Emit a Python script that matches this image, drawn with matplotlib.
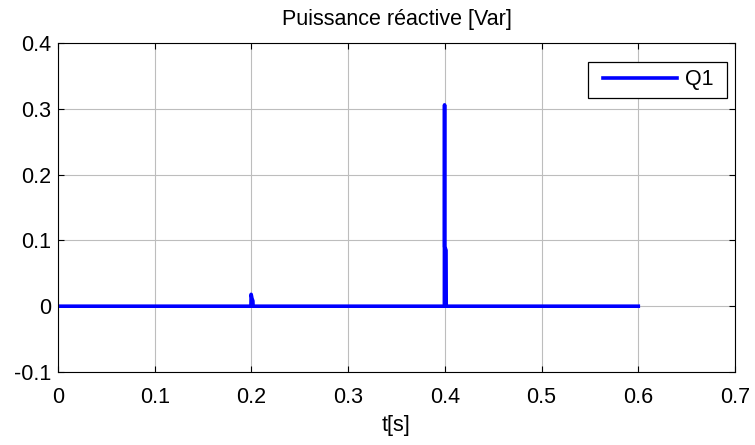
import matplotlib
matplotlib.use("Agg")
import matplotlib.pyplot as plt
from matplotlib.patches import Rectangle

plt.rcParams['font.family'] = ['Liberation Sans', 'DejaVu Sans']

t = [0.0, 0.1995, 0.1997, 0.2, 0.2005, 0.201, 0.2015, 0.2017,
     0.3995, 0.3997, 0.3998, 0.4001, 0.4005, 0.4012, 0.4014, 0.6]
q1 = [0.0, 0.0, 0.018, 0.016, 0.012, 0.010, 0.008, 0.0,
      0.0, 0.306, 0.09, 0.089, 0.088, 0.085, 0.0, 0.0]

xticks = [0, 0.1, 0.2, 0.3, 0.4, 0.5, 0.6, 0.7]
xlabels = ['0', '0.1', '0.2', '0.3', '0.4', '0.5', '0.6', '0.7']
yticks = [-0.1, 0, 0.1, 0.2, 0.3, 0.4]
ylabels = ['-0.1', '0', '0.1', '0.2', '0.3', '0.4']

FS = 15.5
fig = plt.figure(figsize=(7.55, 4.45), dpi=100)
ax = fig.add_axes([58/755, 73/445, 677/755, 329/445])
ax.plot(t, q1, color='#0000ff', linewidth=2.6, label='Q1')
ax.set_xlim(0, 0.7)
ax.set_ylim(-0.1, 0.4)
ax.set_xticks(xticks)
ax.set_xticklabels(xlabels)
ax.set_yticks(yticks)
ax.set_yticklabels(ylabels)
ax.grid(True, color='#bdbdbd', linewidth=0.8, linestyle='-')
ax.tick_params(direction='in', top=True, right=True, labelsize=FS, length=4, width=0.8)
ax.tick_params(axis='x', pad=11)
ax.tick_params(axis='y', pad=5)
for s in ax.spines.values():
    s.set_linewidth(0.8)
ax.set_xlabel('t[s]', fontsize=FS, labelpad=5)
ax.set_title('Puissance réactive [Var]', fontsize=FS, pad=13)

# legend box (MATLAB style)
def axfx(px):
    return (px - 58) / 677

def axfy(py):
    return (372 - py) / 329

ax.add_patch(Rectangle((axfx(588), axfy(98)), axfx(727) - axfx(588), axfy(62) - axfy(98),
                       transform=ax.transAxes, facecolor='white', edgecolor='black',
                       linewidth=0.9, zorder=5, clip_on=False))
leg = ax.legend(loc='center left', bbox_to_anchor=(axfx(603), axfy(80)),
                borderaxespad=0, borderpad=0, fontsize=FS, frameon=False,
                handlelength=3.44, handletextpad=0.37)
leg.set_zorder(6)
fig.savefig('out.png', dpi=100)
